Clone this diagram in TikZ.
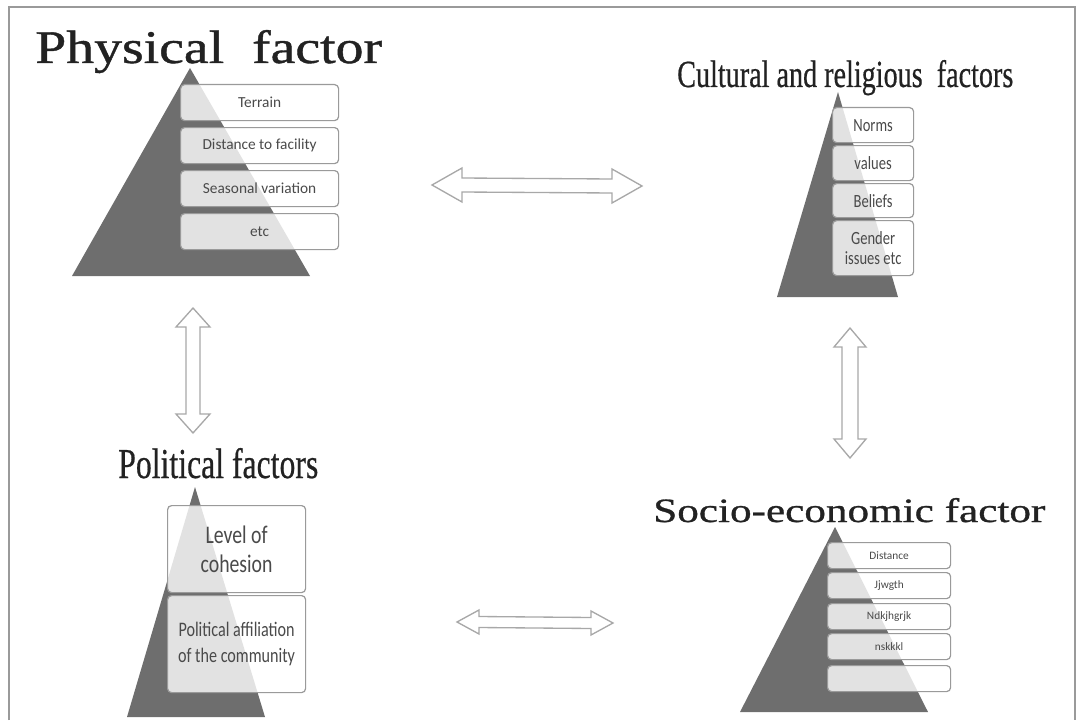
\documentclass[tikz,border=0pt]{standalone}
\usepackage{fontspec}
\usepackage{graphicx}
\newfontfamily\boxfont{Carlito}
\newfontfamily\narrowfont[FakeStretch=0.78]{Carlito}
\newfontfamily\widetitle[FakeBold=0.8]{Liberation Serif}
\newfontfamily\narrowtitle[FakeBold=0.6]{Liberation Serif}
\usetikzlibrary{calc}
\definecolor{pyr}{HTML}{6E6E6E}
\definecolor{edge}{HTML}{9A9A9A}
\definecolor{arr}{HTML}{A8A8A8}
\definecolor{ink}{HTML}{222222}
\definecolor{boxink}{HTML}{4A4A4A}
\newcommand\harrowpath[5]{%
 \draw[hollow] (#1) -- ($(#1)+(#3,-#4)$) -- ($(#1)+(#3,-#5)$) -- ($(#2)+(-#3,-#5)$) -- ($(#2)+(-#3,-#4)$) -- (#2)
  -- ($(#2)+(-#3,#4)$) -- ($(#2)+(-#3,#5)$) -- ($(#1)+(#3,#5)$) -- ($(#1)+(#3,#4)$) -- cycle;}
\newcommand\varrowpath[5]{%
 \draw[hollow] (#1) -- ($(#1)+(-#4,#3)$) -- ($(#1)+(-#5,#3)$) -- ($(#2)+(-#5,-#3)$) -- ($(#2)+(-#4,-#3)$) -- (#2)
  -- ($(#2)+(#4,-#3)$) -- ($(#2)+(#5,-#3)$) -- ($(#1)+(#5,#3)$) -- ($(#1)+(#4,#3)$) -- cycle;}
\begin{document}
\begin{tikzpicture}[x=0.75pt,y=-0.75pt,
 itembox/.style={draw=edge, line width=0.9pt, rounded corners=3pt, fill=white, fill opacity=0.8,
   text opacity=1, text=boxink, inner sep=0pt, anchor=north west, align=center},
 title/.style={anchor=base west, inner sep=0pt, text=ink},
 pyramid/.style={fill=pyr},
 hollow/.style={draw=arr, line width=1pt, fill=white, line join=miter}]
\useasboundingbox (0,0) rectangle (1078,724);
% frame
\draw[edge, line width=1.2pt] (9,720) -- (9,7) -- (1075,7) -- (1075,720);

% ---------- Physical factor ----------
\node[title] (tphys) at (35,63) {\resizebox{260pt}{24.75pt}{\widetitle Physical~~factor}};
\fill[pyramid] (190,68) -- (310,276) -- (72,276) -- cycle;
\begin{scope}[every node/.style={itembox, minimum width=118.5pt, minimum height=27pt, font=\boxfont\fontsize{11.5}{13}\selectfont}]
\node (p1) at (180,84) {Terrain};
\node (p2) at (180,127) {Distance to facility};
\node (p3) at (180,170) {Seasonal variation};
\node (p4) at (180,213) {etc};
\end{scope}

% ---------- Cultural and religious factors ----------
\node[title] (tcult) at (677,87) {\resizebox{252pt}{20.25pt}{\narrowtitle Cultural and religious~~factors}};
\fill[pyramid] (838,92) -- (898,297) -- (777,297) -- cycle;
\begin{scope}[every node/.style={itembox, minimum width=60.75pt, font=\narrowfont\fontsize{14}{15}\selectfont}]
\node[minimum height=26.25pt] (c1) at (832,107) {Norms};
\node[minimum height=26.25pt] (c2) at (832,145) {values};
\node[minimum height=25.5pt] (c3) at (832,183) {Beliefs};
\node[minimum height=41.25pt] (c4) at (832,220) {Gender\\issues etc};
\end{scope}

% ---------- Political factors ----------
\node[title] (tpol) at (118,478) {\resizebox{150pt}{22.5pt}{\narrowtitle Political factors}};
\fill[pyramid] (195,487) -- (265,717) -- (127,717) -- cycle;
\begin{scope}[every node/.style={itembox, minimum width=103.5pt}]
\node[minimum height=65.25pt, font=\narrowfont\fontsize{19}{22}\selectfont] (o1) at (167,505) {Level of\\cohesion};
\node[minimum height=72.75pt, font=\narrowfont\fontsize{15.5}{20}\selectfont] (o2) at (167,595) {Political affiliation\\of the community};
\end{scope}

% ---------- Socio-economic factor ----------
\node[title] (tsoc) at (653,522) {\resizebox{294pt}{18pt}{\widetitle Socio-economic factor}};
\fill[pyramid] (835,527) -- (928,712) -- (740,712) -- cycle;
\begin{scope}[every node/.style={itembox, minimum width=92.25pt, minimum height=19.5pt, font=\boxfont\fontsize{8.5}{10}\selectfont}]
\node (s1) at (827,542) {Distance};
\node (s2) at (827,572) {Jjwgth};
\node (s3) at (827,603) {Ndkjhgrjk};
\node (s4) at (827,633) {nskkkl};
\node (s5) at (827,665) {};
\end{scope}

% ---------- connectors ----------
\coordinate (a1l) at (432,185);
\coordinate (a1r) at (642,186);
\harrowpath{a1l}{a1r}{30}{17}{7}
\coordinate (a2t) at (193,308);
\coordinate (a2b) at (193,433);
\varrowpath{a2t}{a2b}{19}{17}{7}
\coordinate (a3t) at (850,328);
\coordinate (a3b) at (850,458);
\varrowpath{a3t}{a3b}{19}{16}{8}
\coordinate (a4l) at (457,622);
\coordinate (a4r) at (613,623);
\harrowpath{a4l}{a4r}{22}{12}{5.5}
\end{tikzpicture}
\end{document}
